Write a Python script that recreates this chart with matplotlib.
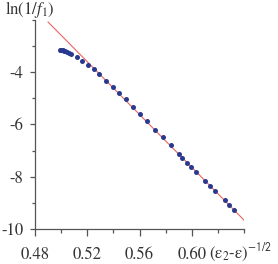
import matplotlib
matplotlib.use("Agg")
import matplotlib.pyplot as plt
from matplotlib.ticker import FixedLocator

plt.rcParams['mathtext.fontset'] = 'stix'
plt.rcParams['font.family'] = ['STIXGeneral', 'Liberation Serif', 'DejaVu Serif']

# data points
x_pts = [0.4988, 0.4999, 0.5011, 0.5022, 0.5033, 0.5045, 0.5060, 0.5079,
         0.5119, 0.5162, 0.5206, 0.5249, 0.5292, 0.5344, 0.5395, 0.5443,
         0.5497, 0.5548, 0.5604, 0.5660, 0.5719, 0.5778, 0.5839, 0.5899,
         0.5929, 0.5964, 0.5997, 0.6033, 0.6105, 0.6140, 0.6178, 0.6251,
         0.6288, 0.6327]
y_pts = [-3.140, -3.148, -3.163, -3.180, -3.210, -3.236, -3.274, -3.324,
         -3.438, -3.580, -3.733, -3.897, -4.088, -4.325, -4.562, -4.791,
         -5.043, -5.326, -5.605, -5.884, -6.197, -6.484, -6.801, -7.133,
         -7.294, -7.466, -7.630, -7.821, -8.177, -8.356, -8.547, -8.910,
         -9.082, -9.273]

# fitted line
line_x = [0.490, 0.640]
line_y = [-2.09, -9.66]

xtick_vals = [0.48, 0.52, 0.56, 0.60]
xtick_labels = ['0.48', '0.52', '0.56', '0.60']
ytick_vals = [-4, -6, -8, -10]
ytick_labels = ['-4', '-6', '-8', '-10']

fig = plt.figure(figsize=(2.78, 2.64), dpi=100)
ax = fig.add_axes([35/278, 1-229/264, (244-35)/278, (229-19.7)/264])

ax.plot(line_x, line_y, color='#e8645f', lw=0.8, zorder=2)
ax.plot(x_pts, y_pts, 'o', color='#2a3990', ms=3.6, mec='none', zorder=3)

ax.set_xlim(0.48, 0.64)
ax.set_ylim(-10, -2)

for s in ['top', 'right']:
    ax.spines[s].set_visible(False)
for s in ['left', 'bottom']:
    ax.spines[s].set_color('#555555')
    ax.spines[s].set_linewidth(0.9)

ax.xaxis.set_major_locator(FixedLocator(xtick_vals))
ax.set_xticklabels(xtick_labels)
ax.xaxis.set_minor_locator(FixedLocator([0.50, 0.54, 0.58, 0.62, 0.64]))
ax.yaxis.set_major_locator(FixedLocator(ytick_vals))
ax.set_yticklabels(ytick_labels)
ax.yaxis.set_minor_locator(FixedLocator([-9, -7, -5, -3, -2]))

ax.tick_params(axis='x', which='major', length=5, width=0.9, color='#555555',
               labelsize=12, pad=8, labelcolor='#333333')
ax.tick_params(axis='x', which='minor', length=3, width=0.9, color='#555555')
ax.tick_params(axis='y', which='major', length=3.6, width=0.9, color='#555555',
               labelsize=12, pad=5, labelcolor='#333333')
ax.tick_params(axis='y', which='minor', length=2.4, width=0.9, color='#555555')

fig.text(5/278, 1-10/264, r'ln(1/$f_1$)', fontsize=12, color='#333333',
         ha='left', va='center')
fig.text(209/278, 1-253/264, r'(ε$_2$-ε)$^{\mathsf{-1/2}}$',
         fontsize=12, color='#333333', ha='left', va='center')

fig.savefig('out.png', dpi=100)
